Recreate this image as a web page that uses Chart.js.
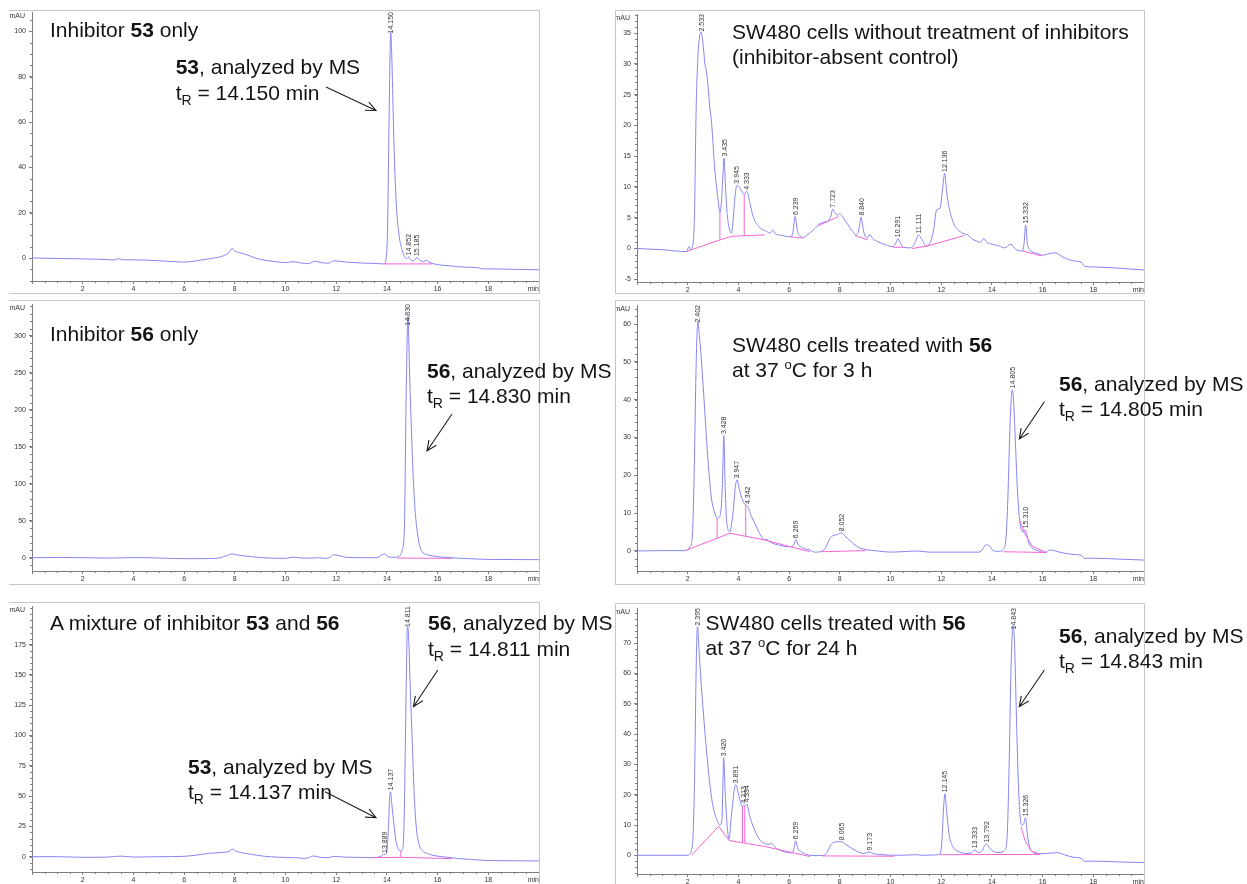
<!DOCTYPE html>
<html lang="en">
<head>
<meta charset="utf-8">
<title>HPLC chromatograms of inhibitors 53 and 56 in SW480 cells</title>
<script src="https://cdn.jsdelivr.net/npm/chart.js@4/dist/chart.umd.min.js"></script>
<style>
html, body { margin: 0; padding: 0; background: #fff; }
#figure { position: relative; width: 1247px; height: 884px; overflow: hidden; background: #fff; }
#figure canvas { position: absolute; }
#overlay { position: absolute; left: 0; top: 0; z-index: 2; pointer-events: none; }
#overlay text { font-family: "Liberation Sans", Arial, sans-serif; font-size: 21px; fill: #141414; }
</style>
</head>
<body>
<div id="figure">
<svg id="overlay" width="1247" height="884" viewBox="0 0 1247 884">
  <g fill="none" stroke="#c6c6c6" stroke-width="1">
    <path d="M9 10.5 H539.5 V293.5 H9"/>
    <rect x="615.5" y="10.5" width="529" height="283"/>
    <path d="M9 300.5 H539.5 V584.5 H9"/>
    <rect x="615.5" y="300.5" width="529" height="284"/>
    <path d="M9 602.5 H539.5 V884"/>
    <path d="M615.5 884 V603.5 H1144.5 V884"/>
  </g>

  <text x="50" y="37.3">Inhibitor <tspan font-weight="bold">53</tspan> only</text>
  <text x="175.7" y="74.2"><tspan font-weight="bold">53</tspan>, analyzed by MS</text>
  <text x="175.7" y="100">t<tspan font-size="14" dy="5">R</tspan><tspan dy="-5"> = 14.150 min</tspan></text>

  <text x="732" y="39">SW480 cells without treatment of inhibitors</text>
  <text x="732" y="64">(inhibitor-absent control)</text>

  <text x="50" y="341">Inhibitor <tspan font-weight="bold">56</tspan> only</text>
  <text x="427" y="378.3"><tspan font-weight="bold">56</tspan>, analyzed by MS</text>
  <text x="427" y="403.3">t<tspan font-size="14" dy="5">R</tspan><tspan dy="-5"> = 14.830 min</tspan></text>

  <text x="732" y="352.3">SW480 cells treated with <tspan font-weight="bold">56</tspan></text>
  <text x="732" y="376.7">at 37 <tspan font-size="13" dy="-8">o</tspan><tspan dy="8">C for 3 h</tspan></text>
  <text x="1059" y="391"><tspan font-weight="bold">56</tspan>, analyzed by MS</text>
  <text x="1059" y="415.7">t<tspan font-size="14" dy="5">R</tspan><tspan dy="-5"> = 14.805 min</tspan></text>

  <text x="50" y="630">A mixture of inhibitor <tspan font-weight="bold">53</tspan> and <tspan font-weight="bold">56</tspan></text>
  <text x="428" y="630"><tspan font-weight="bold">56</tspan>, analyzed by MS</text>
  <text x="428" y="655.7">t<tspan font-size="14" dy="5">R</tspan><tspan dy="-5"> = 14.811 min</tspan></text>
  <text x="188" y="774"><tspan font-weight="bold">53</tspan>, analyzed by MS</text>
  <text x="188" y="799">t<tspan font-size="14" dy="5">R</tspan><tspan dy="-5"> = 14.137 min</tspan></text>

  <text x="705.5" y="630">SW480 cells treated with <tspan font-weight="bold">56</tspan></text>
  <text x="705.5" y="655">at 37 <tspan font-size="13" dy="-8">o</tspan><tspan dy="8">C for 24 h</tspan></text>
  <text x="1059" y="643.3"><tspan font-weight="bold">56</tspan>, analyzed by MS</text>
  <text x="1059" y="667.7">t<tspan font-size="14" dy="5">R</tspan><tspan dy="-5"> = 14.843 min</tspan></text>

  <g id="arrows" fill="none" stroke="#1e1e1e" stroke-width="1.1"></g>
</svg>
</div>

<script>
// ---- Retention-time axis (min) ----
const timeTicks = [0, 2, 4, 6, 8, 10, 12, 14, 16, 18, 20];

// ---- Absorbance tick labels (mAU) ----
const inhibitor53Ticks = [0, 20, 40, 60, 80, 100];
const controlTicks = [-5, 0, 5, 10, 15, 20, 25, 30, 35];
const inhibitor56Ticks = [0, 50, 100, 150, 200, 250, 300];
const treated3hTicks = [0, 10, 20, 30, 40, 50, 60];
const mixtureTicks = [0, 25, 50, 75, 100, 125, 150, 175];
const treated24hTicks = [0, 10, 20, 30, 40, 50, 60, 70];

// ---- Chromatogram traces: [time (min), absorbance (mAU)] ----
const inhibitor53Trace = [
  [0,0],[1,-0.2],[2,-0.4],[3,-0.7],[3.25,-0.9],[3.4,-0.3],[3.6,-0.8],[4,-0.8],[5,-1.2],[6,-1.8],
  [6.5,-1.2],[7,-0.3],[7.5,0.8],[7.75,2.2],[7.9,4.2],[8.0,3.0],[8.2,2.4],[8.5,1.3],[8.8,0],[9.2,-1.0],
  [9.6,-1.6],[10,-2.0],[10.3,-1.6],[10.6,-2.2],[10.9,-2.5],[11.15,-1.4],[11.4,-2.0],[11.7,-2.3],[11.9,-1.2],
  [12.1,-1.4],[12.5,-1.9],[13,-2.2],[13.5,-2.4],[13.9,-2.6],[13.97,0],[14.03,15],[14.09,65],[14.15,99.8],
  [14.2,86],[14.25,63],[14.3,43],[14.38,22],[14.48,10],[14.6,3.5],[14.7,0.5],[14.78,-0.3],[14.852,0.5],
  [14.95,-1.0],[15.05,-1.2],[15.185,0.2],[15.3,-0.9],[15.45,-1.6],[15.55,-1.0],[15.7,-2.0],[16,-2.9],
  [16.5,-3.5],[17,-4.0],[17.6,-4.3],[17.75,-4.8],[18,-4.8],[19,-5.0],[20,-5.2]
];
const controlTrace = [
  [0,0],[1,-0.2],[1.95,-0.5],[2.05,0.3],[2.12,-0.2],[2.2,0.5],[2.27,6],[2.33,22],[2.4,31],[2.47,34.5],
  [2.533,35.2],[2.6,33.5],[2.68,30],[2.74,28.8],[2.8,26.5],[2.87,23],[2.94,20.5],[3.07,12.8],[3.2,7.9],
  [3.27,5.8],[3.33,7.5],[3.39,12],[3.435,14.7],[3.48,11],[3.55,6],[3.63,3.4],[3.73,2.5],[3.8,5],[3.88,9],
  [3.945,10.3],[4.05,9.9],[4.15,9.2],[4.23,8.8],[4.333,9.3],[4.45,7.5],[4.58,5.2],[4.84,3.4],[5.1,2.8],
  [5.24,2.5],[5.37,3.0],[5.45,2.4],[5.63,2.2],[6.03,1.9],[6.15,2.6],[6.239,5.2],[6.33,2.8],[6.45,2.0],
  [6.56,1.8],[6.75,2.3],[6.95,3.0],[7.21,4.0],[7.4,4.3],[7.55,4.5],[7.65,5.3],[7.723,6.4],[7.8,5.9],
  [7.9,5.4],[8.0,5.7],[8.1,5.2],[8.3,4.0],[8.5,2.8],[8.65,2.2],[8.75,3.0],[8.84,5.1],[8.92,3.2],[9.0,2.0],
  [9.1,1.8],[9.18,2.3],[9.3,1.6],[9.5,1.1],[9.8,0.6],[10.1,0.3],[10.2,0.8],[10.291,1.6],[10.38,1.0],
  [10.5,0.2],[10.8,0.1],[10.95,0.8],[11.111,2.2],[11.25,1.4],[11.4,0.4],[11.55,0.8],[11.7,3],[11.82,6.3],
  [11.95,6.5],[12.05,9.5],[12.136,12.2],[12.22,9],[12.32,6.5],[12.5,4.0],[12.7,2.9],[12.9,2.4],[13.05,2.2],
  [13.2,1.6],[13.4,1.2],[13.55,1.0],[13.68,1.6],[13.8,1.0],[14.0,0.7],[14.3,0.4],[14.5,0.1],[14.75,0.7],
  [14.95,-0.2],[15.2,-0.4],[15.26,0.5],[15.332,3.8],[15.4,0.8],[15.5,-0.2],[15.8,-0.8],[16.0,-1.1],
  [16.2,-0.9],[16.5,-0.7],[16.8,-1.4],[17.2,-2.0],[17.55,-2.3],[17.65,-2.9],[18.0,-3.0],[19,-3.2],[20,-3.5]
];
const inhibitor56Trace = [
  [0,0],[1,0.3],[2,0],[3,-0.5],[4,0.2],[5,-0.4],[6,-1.3],[7,-1.2],[7.4,-0.2],[7.7,3],[7.9,5.2],[8.1,3.6],
  [8.4,2.4],[9,0.2],[9.5,-0.7],[10,-0.9],[10.3,0.8],[10.6,-0.4],[11,-0.5],[11.3,-0.1],[11.6,-1.0],
  [11.75,0.5],[11.9,4.0],[12.15,2.6],[12.4,0.5],[13,0],[13.6,0],[13.8,3.5],[13.9,5.3],[14.05,1.2],
  [14.3,0.5],[14.45,1.5],[14.52,3],[14.6,10],[14.69,40],[14.76,220],[14.83,327],[14.9,243],[14.97,170],
  [15.04,107],[15.11,65],[15.18,40],[15.28,18],[15.39,8],[15.55,4.5],[15.8,2.5],[16,1.3],[16.5,0],
  [17,-1],[17.7,-2],[18,-2.3],[19,-2.5],[20,-2.7]
];
const treated3hTrace = [
  [0,0],[1,0.1],[1.9,0.1],[2.0,0.4],[2.1,1.2],[2.15,2],[2.2,6],[2.26,22],[2.32,45],[2.36,56],[2.402,60.6],
  [2.46,57],[2.54,50.5],[2.67,37.3],[2.8,24],[2.93,14.3],[3.07,10],[3.16,8.7],[3.29,9.6],[3.36,16],
  [3.428,30.5],[3.47,19],[3.53,8.4],[3.66,5.1],[3.79,10.3],[3.88,17],[3.947,18.8],[4.03,16.5],[4.12,14.3],
  [4.29,12.1],[4.342,12.0],[4.51,9.2],[4.7,6.6],[4.85,4.5],[5.04,3.0],[5.12,3.1],[5.24,2.4],[5.63,1.5],
  [6.09,1.1],[6.18,1.6],[6.269,3.0],[6.35,1.8],[6.42,1.3],[6.6,0.6],[6.82,0.3],[7.0,-0.3],[7.3,-0.1],
  [7.45,1.0],[7.6,3.2],[7.75,4.1],[7.9,4.3],[8.052,4.8],[8.2,4.0],[8.4,2.8],[8.6,1.6],[8.8,0.8],[9.0,0.4],
  [9.5,0],[10,-0.3],[10.7,-0.1],[11.1,0],[11.5,-0.3],[12,-0.3],[12.8,-0.3],[13.5,-0.3],[13.65,0.6],
  [13.75,1.6],[13.9,1.4],[14.05,0.1],[14.3,-0.1],[14.45,0.5],[14.55,3],[14.62,12],[14.7,30],[14.76,40],
  [14.805,42.6],[14.86,39],[14.92,30],[15.0,17],[15.08,9],[15.18,5.3],[15.24,5.0],[15.31,5.6],[15.38,4.2],
  [15.45,2.2],[15.6,0.8],[15.8,0.1],[16.1,-0.4],[16.3,0.3],[16.5,0],[16.8,-0.5],[17.2,-0.9],[17.55,-1.2],
  [17.65,-2.0],[17.8,-1.9],[18.5,-2.0],[19.2,-2.2],[20,-2.4]
];
const mixtureTrace = [
  [0,0],[1,0],[2,-0.5],[3,-0.3],[3.5,0.5],[4,-0.3],[5,0],[6,0.3],[6.5,1.4],[7,2.8],[7.5,3.6],[7.8,4.5],
  [7.9,6.3],[8.05,4.5],[8.3,3.2],[8.7,1.8],[9.2,0.3],[9.7,-0.4],[10,-0.6],[10.5,-1.0],[10.8,-1.4],
  [11.1,0.6],[11.4,-0.6],[11.7,-0.8],[11.9,0.3],[12.3,-0.3],[13,-0.6],[13.5,-0.8],[13.75,0.2],[13.889,1.9],
  [13.98,2.5],[14.05,20],[14.1,45],[14.137,53.7],[14.2,42],[14.27,28],[14.35,14],[14.45,6.5],[14.55,4.7],
  [14.62,6],[14.68,30],[14.74,110],[14.78,165],[14.811,190.7],[14.86,180],[14.92,140],[15.0,95],
  [15.08,50],[15.17,22],[15.27,10],[15.4,5],[15.6,2.5],[15.9,0.8],[16.3,-0.3],[16.8,-1.5],[17.3,-2.2],
  [17.8,-3.0],[18.5,-3.3],[19.3,-3.4],[20,-3.5]
];
const treated24hTrace = [
  [0,0],[1,0],[2.0,0],[2.1,0.6],[2.15,1.7],[2.22,8],[2.28,30],[2.33,60],[2.37,74],[2.395,75.5],[2.42,72],
  [2.47,64.5],[2.61,48],[2.74,34.8],[2.87,23.8],[3.0,16],[3.16,11.6],[3.26,10],[3.35,11.6],[3.42,32.2],
  [3.48,20.4],[3.56,9.4],[3.63,5.3],[3.72,12.8],[3.891,23.3],[4.03,19.3],[4.16,16],[4.213,16.6],[4.25,16.2],
  [4.334,16.9],[4.45,12.8],[4.64,8.4],[4.84,5.1],[5.08,3.8],[5.2,3.6],[5.3,4.0],[5.4,3.0],[5.63,1.7],
  [6.09,0.8],[6.18,1.8],[6.259,4.8],[6.34,2.2],[6.4,1.7],[6.6,0.6],[6.82,0],[7.1,-0.1],[7.35,0],[7.5,1.0],
  [7.65,3.5],[7.8,4.4],[8.0,4.5],[8.065,4.5],[8.2,3.8],[8.45,2.4],[8.7,1.2],[8.95,0.6],[9.173,1.1],
  [9.35,0.5],[9.7,0.2],[10.2,0],[10.7,0.1],[11.0,0.2],[11.3,0],[11.7,0.1],[11.95,0.4],[12.03,5],[12.09,15],
  [12.145,20.3],[12.22,14],[12.32,6.5],[12.45,3],[12.7,1.2],[13.0,0.6],[13.2,0.8],[13.333,1.8],[13.45,0.9],
  [13.6,1.3],[13.7,3],[13.792,3.7],[13.9,2.5],[14.05,1.3],[14.3,0.9],[14.5,1.6],[14.6,6],[14.68,30],
  [14.75,60],[14.8,73],[14.843,76],[14.9,68],[14.97,45],[15.03,27],[15.1,14],[15.18,10],[15.25,10.3],
  [15.326,12.4],[15.4,7],[15.48,3],[15.6,1.2],[15.85,0.5],[16.1,0.6],[16.3,0.7],[16.6,0.9],[16.85,0.2],
  [17.2,-0.6],[17.55,-1.1],[17.65,-2.0],[18,-1.9],[19,-2.2],[20,-2.4]
];

// ---- Integration baselines and peak drop lines: polylines of [time, mAU] ----
const inhibitor53Baseline = [
  [[13.88,-2.6],[15.8,-2.6]]
];
const controlBaseline = [
  [[1.95,-0.5],[3.27,1.4],[3.75,2.0],[5.04,2.2]],
  [[3.27,1.4],[3.27,5.8]],
  [[4.23,2.1],[4.23,8.8]],
  [[6.03,1.9],[6.56,1.7]],
  [[7.15,3.7],[7.95,5.2]],
  [[8.6,2.1],[9.1,1.4]],
  [[10.1,0.2],[10.5,0.2]],
  [[10.85,0.0],[11.45,0.4],[12.9,2.1]],
  [[15.2,-0.4],[15.95,-1.2]]
];
const inhibitor56Baseline = [
  [[14.4,-0.5],[16.57,-0.9]]
];
const treated3hBaseline = [
  [[1.95,0.2],[3.66,4.7],[5.04,2.9],[6.82,-0.2]],
  [[3.16,3.4],[3.16,8.7]],
  [[4.29,3.9],[4.29,12.1]],
  [[7.3,-0.2],[9.0,0.1]],
  [[14.45,-0.2],[16.15,-0.4]],
  [[15.1,8],[15.3,4.5],[15.6,1.2],[16.15,-0.4]]
];
const mixtureBaseline = [
  [[13.45,-0.8],[14.55,-0.5],[16.57,-1.6]],
  [[14.55,-0.5],[14.55,4.7]]
];
const treated24hBaseline = [
  [[2.15,0.0],[3.22,9.6],[3.63,4.9],[5.04,2.9],[6.82,-0.4]],
  [[4.16,4.2],[4.16,16.0]],
  [[4.25,4.1],[4.25,16.2]],
  [[7.3,-0.2],[10.15,-0.3]],
  [[11.95,0.2],[15.9,0.3]],
  [[15.15,9.5],[15.3,5],[15.55,1.5],[15.9,0.3]]
];

// ---- Labelled retention times (min) ----
const inhibitor53Peaks = [14.150, 14.852, 15.185];
const controlPeaks = [2.533, 3.435, 3.945, 4.333, 6.239, 7.723, 8.840, 10.291, 11.111, 12.136, 15.332];
const inhibitor56Peaks = [14.830];
const treated3hPeaks = [2.402, 3.428, 3.947, 4.342, 6.269, 8.052, 14.805, 15.310];
const mixturePeaks = [13.889, 14.137, 14.811];
const treated24hPeaks = [2.395, 3.420, 3.891, 4.213, 4.334, 6.259, 8.065, 9.173, 12.145, 13.333, 13.792, 14.843, 15.326];

// ---- Styles ----
const FONT = '"Liberation Sans", Arial, sans-serif';
const TRACE_COLOR = '#8585f2';
const BASELINE_COLOR = '#f266d6';
const AXIS_COLOR = '#7d7d7d';
const LABEL_COLOR = '#333333';
const Y_AXIS_W = 32, X_AXIS_H = 18, PAD_TOP = 8, PAD_RIGHT = 10;

// Panel layout: plot-area edges in page pixels, value range and minor tick spacing.
const panels = [
  { trace: inhibitor53Trace, baseline: inhibitor53Baseline, peaks: inhibitor53Peaks, yTicks: inhibitor53Ticks,
    yMin: -10.15, yMax: 108.6, minorY: 5, area: { left: 32, top: 12, right: 539, bottom: 281 } },
  { trace: controlTrace, baseline: controlBaseline, peaks: controlPeaks, yTicks: controlTicks,
    yMin: -5.45, yMax: 38.13, minorY: 1, area: { left: 637, top: 14, right: 1144, bottom: 282 } },
  { trace: inhibitor56Trace, baseline: inhibitor56Baseline, peaks: inhibitor56Peaks, yTicks: inhibitor56Ticks,
    yMin: -18.0, yMax: 343.3, minorY: 10, area: { left: 32, top: 304, right: 539, bottom: 571 } },
  { trace: treated3hTrace, baseline: treated3hBaseline, peaks: treated3hPeaks, yTicks: treated3hTicks,
    yMin: -5.29, yMax: 65.03, minorY: 2, area: { left: 637, top: 305, right: 1144, bottom: 571 } },
  { trace: mixtureTrace, baseline: mixtureBaseline, peaks: mixturePeaks, yTicks: mixtureTicks,
    yMin: -12.63, yMax: 206.95, minorY: 5, area: { left: 32, top: 606, right: 539, bottom: 872 } },
  { trace: treated24hTrace, baseline: treated24hBaseline, peaks: treated24hPeaks, yTicks: treated24hTicks,
    yMin: -6.17, yMax: 81.64, minorY: 2, area: { left: 637, top: 608, right: 1144, bottom: 874 } }
];

const toPoints = arr => arr.map(([x, y]) => ({ x, y }));
const toSegments = segs => segs.flatMap(seg => [
  ...seg.map(([x, y]) => ({ x, y })),
  { x: seg[seg.length - 1][0], y: null }
]);

// Minor tick marks on both axes plus the "mAU" unit caption.
const axisDecor = {
  id: 'axisDecor',
  afterDraw(chart, args, opts) {
    const { ctx, chartArea: a, scales: { x, y } } = chart;
    ctx.save();
    ctx.strokeStyle = AXIS_COLOR;
    ctx.lineWidth = 1;
    ctx.beginPath();
    for (let i = 0; i * 0.5 <= x.max + 1e-9; i++) {
      if (i % 4 === 0) continue;
      const px = Math.round(x.getPixelForValue(i * 0.5)) + 0.5;
      ctx.moveTo(px, a.bottom); ctx.lineTo(px, a.bottom + 2);
    }
    const start = Math.ceil(y.min / opts.minorY);
    for (let i = start; i * opts.minorY <= y.max + 1e-9; i++) {
      const py = Math.round(y.getPixelForValue(i * opts.minorY)) + 0.5;
      ctx.moveTo(a.left - 2, py); ctx.lineTo(a.left, py);
    }
    ctx.stroke();
    ctx.fillStyle = LABEL_COLOR;
    ctx.font = '7px ' + FONT;
    ctx.textAlign = 'right';
    ctx.textBaseline = 'middle';
    ctx.fillText('mAU', a.left - 7, a.top + 4);
    ctx.restore();
  }
};

// Vertical retention-time labels written just above each labelled peak apex.
const peakLabels = {
  id: 'peakLabels',
  afterDatasetsDraw(chart, args, opts) {
    const ds = chart.data.datasets.find(d => d.label === 'trace');
    if (!ds) return;
    const { ctx, chartArea: a, scales: { x, y } } = chart;
    ctx.save();
    ctx.fillStyle = LABEL_COLOR;
    ctx.font = '7px ' + FONT;
    ctx.textAlign = 'left';
    ctx.textBaseline = 'middle';
    for (const t of opts.times) {
      let best = ds.data[0];
      for (const p of ds.data) if (Math.abs(p.x - t) < Math.abs(best.x - t)) best = p;
      const text = t.toFixed(3);
      const w = ctx.measureText(text).width;
      const px = x.getPixelForValue(t);
      const apex = y.getPixelForValue(best.y);
      const bottomY = Math.max(apex - 1.5, a.top + w);
      ctx.save();
      ctx.translate(px + 0.5, bottomY);
      ctx.rotate(-Math.PI / 2);
      ctx.fillText(text, 0, 0);
      ctx.restore();
    }
    ctx.restore();
  }
};

function drawPanel(p) {
  const fig = document.getElementById('figure');
  const canvas = document.createElement('canvas');
  const w = p.area.right - p.area.left + Y_AXIS_W + PAD_RIGHT;
  const h = p.area.bottom - p.area.top + PAD_TOP + X_AXIS_H;
  canvas.width = w;
  canvas.height = h;
  canvas.style.left = (p.area.left - Y_AXIS_W) + 'px';
  canvas.style.top = (p.area.top - PAD_TOP) + 'px';
  fig.insertBefore(canvas, document.getElementById('overlay'));

  const tickFont = { family: FONT, size: 7 };
  new Chart(canvas, {
    type: 'line',
    data: {
      datasets: [
        { label: 'baseline', data: toSegments(p.baseline), borderColor: BASELINE_COLOR, borderWidth: 1,
          pointRadius: 0, spanGaps: false, tension: 0 },
        { label: 'trace', data: toPoints(p.trace), borderColor: TRACE_COLOR, borderWidth: 1,
          pointRadius: 0, cubicInterpolationMode: 'monotone' }
      ]
    },
    options: {
      responsive: false,
      animation: false,
      devicePixelRatio: 1,
      layout: { padding: { left: 0, top: PAD_TOP, right: PAD_RIGHT, bottom: 0 } },
      plugins: {
        legend: { display: false },
        tooltip: { enabled: false },
        axisDecor: { minorY: p.minorY },
        peakLabels: { times: p.peaks }
      },
      scales: {
        x: {
          type: 'linear', min: 0, max: 20,
          afterBuildTicks: s => { s.ticks = timeTicks.map(v => ({ value: v })); },
          afterFit: s => { s.height = X_AXIS_H; s.paddingLeft = 0; s.paddingRight = 0; },
          ticks: {
            autoSkip: false, maxRotation: 0, align: 'inner', padding: 1,
            color: LABEL_COLOR, font: tickFont,
            callback: v => (v === 0 ? '' : v === 20 ? 'min' : String(v))
          },
          grid: { drawOnChartArea: false, drawTicks: true, tickLength: 3, color: AXIS_COLOR },
          border: { display: true, color: AXIS_COLOR, width: 1 }
        },
        y: {
          type: 'linear', min: p.yMin, max: p.yMax,
          afterBuildTicks: s => { s.ticks = p.yTicks.map(v => ({ value: v })); },
          afterFit: s => { s.width = Y_AXIS_W; s.paddingTop = 0; s.paddingBottom = 0; },
          ticks: {
            autoSkip: false, padding: 3, color: LABEL_COLOR, font: tickFont,
            callback: v => String(v)
          },
          grid: { drawOnChartArea: false, drawTicks: true, tickLength: 3, color: AXIS_COLOR },
          border: { display: true, color: AXIS_COLOR, width: 1 }
        }
      }
    },
    plugins: [axisDecor, peakLabels]
  });
}

panels.forEach(drawPanel);

// Annotation arrows: [fromX, fromY, tipX, tipY] in page pixels.
const arrows = [
  [326, 87, 376, 110.5],
  [452, 414, 427, 451],
  [1044.4, 401.7, 1019.3, 439],
  [437.8, 670, 413.5, 706.7],
  [325, 791.7, 376, 817.7],
  [1044.4, 670, 1019.3, 706.7]
];
const svgNS = 'http://www.w3.org/2000/svg';
const arrowGroup = document.getElementById('arrows');
arrows.forEach(([x1, y1, x2, y2]) => {
  const ang = Math.atan2(y2 - y1, x2 - x1);
  const len = 11, spread = 0.42;
  const hx1 = x2 - len * Math.cos(ang - spread), hy1 = y2 - len * Math.sin(ang - spread);
  const hx2 = x2 - len * Math.cos(ang + spread), hy2 = y2 - len * Math.sin(ang + spread);
  const path = document.createElementNS(svgNS, 'path');
  path.setAttribute('d', `M${x1} ${y1} L${x2} ${y2} M${hx1} ${hy1} L${x2} ${y2} L${hx2} ${hy2}`);
  arrowGroup.appendChild(path);
});
</script>
</body>
</html>
